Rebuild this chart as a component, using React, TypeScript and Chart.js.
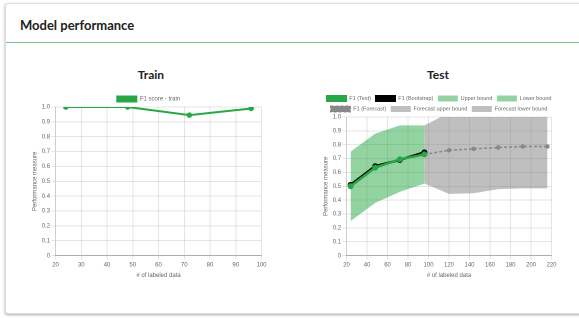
import React, { useEffect, useRef } from "react";
import { Chart, registerables } from "chart.js";

Chart.register(...registerables);

const trainX = [24, 48, 72, 96];
const trainF1 = [1.0, 1.0, 0.945, 0.99];

const testX = [24, 48, 72, 96];
const testF1 = [0.5, 0.635, 0.695, 0.73];
const bootstrapF1 = [0.51, 0.645, 0.69, 0.745];
const upperBound = [0.75, 0.88, 0.94, 0.94];
const lowerBound = [0.25, 0.38, 0.46, 0.52];

const forecastX = [96, 120, 144, 168, 192, 216];
const forecastF1 = [0.73, 0.76, 0.77, 0.78, 0.787, 0.787];
const forecastUpper = [0.94, 1.03, 1.04, 1.05, 1.06, 1.06];
const forecastLower = [0.52, 0.445, 0.45, 0.48, 0.485, 0.485];

const GREEN = "#28a745";
const GREEN_FILL = "rgba(40,167,69,0.5)";
const GRAY_FILL = "rgba(128,128,128,0.5)";

const pts = (xs: number[], ys: number[]) => xs.map((x, i) => ({ x, y: ys[i] }));

const FONT = "'Liberation Sans', Arial, sans-serif";
const S = 2; // internal render scale

function yTick(v: any) {
  const n = Number(v);
  return n === 0 ? "0" : n.toFixed(1);
}

function baseScales(xmin: number, xmax: number, xstep: number) {
  return {
    x: {
      type: "linear" as const,
      min: xmin,
      max: xmax,
      ticks: { stepSize: xstep, color: "#666", font: { size: 12, family: FONT } },
      grid: { color: "rgba(0,0,0,0.1)", lineWidth: 2, tickLength: 8 },
      border: { color: "rgba(0,0,0,0.25)", width: 2 },
      title: { display: true, text: "# of labeled data", color: "#666", font: { size: 12, family: FONT } },
    },
    y: {
      min: 0,
      max: 1,
      ticks: { stepSize: 0.1, color: "#666", font: { size: 12, family: FONT }, callback: yTick },
      grid: { color: "rgba(0,0,0,0.1)", lineWidth: 2, tickLength: 8 },
      border: { color: "rgba(0,0,0,0.1)", width: 2 },
      title: { display: true, text: "Performance measure", color: "#666", font: { size: 12, family: FONT } },
    },
  };
}

function legendOpts(fontSize: number, padding: number) {
  return {
    labels: {
      boxWidth: 40,
      boxHeight: 12,
      font: { size: fontSize, family: FONT },
      color: "#666",
      padding,
      sort: (a: any, b: any) => a.datasetIndex - b.datasetIndex,
      generateLabels: (chart: any) =>
        (Chart.defaults.plugins.legend.labels.generateLabels as any)(chart).map((l: any) => ({
          ...l,
          lineWidth: Math.min(l.lineWidth || 0, 2),
        })),
    },
  };
}

function TrainChart({ w, h }: { w: number; h: number }) {
  const ref = useRef<HTMLCanvasElement | null>(null);
  useEffect(() => {
    if (!ref.current) return;
    const chart = new Chart(ref.current, {
      type: "line",
      data: {
        datasets: [
          {
            label: "F1 score - train",
            data: pts(trainX, trainF1),
            borderColor: GREEN,
            backgroundColor: GREEN,
            borderWidth: 4,
            pointRadius: 3.5,
            fill: false,
            tension: 0,
          },
        ],
      },
      options: {
        animation: false,
        responsive: false,
        maintainAspectRatio: false,
        devicePixelRatio: 1,
        plugins: {
          legend: legendOpts(12, 10) as any,
          tooltip: { enabled: false },
        },
        scales: baseScales(20, 100, 10) as any,
      },
    });
    return () => chart.destroy();
  }, []);
  return <canvas ref={ref} width={w * S} height={h * S} style={{ width: w, height: h, display: "block" }} />;
}

function TestChart({ w, h }: { w: number; h: number }) {
  const ref = useRef<HTMLCanvasElement | null>(null);
  useEffect(() => {
    if (!ref.current) return;
    const chart = new Chart(ref.current, {
      type: "line",
      data: {
        datasets: [
          {
            label: "F1 (Test)",
            data: pts(testX, testF1),
            borderColor: GREEN,
            backgroundColor: GREEN,
            borderWidth: 5,
            pointRadius: 3.5,
            fill: false,
            order: 0,
          },
          {
            label: "F1 (Bootstrap)",
            data: pts(testX, bootstrapF1),
            borderColor: "#000",
            backgroundColor: "#000",
            borderWidth: 5,
            pointRadius: 3.5,
            fill: false,
            order: 1,
          },
          {
            label: "Upper bound",
            data: pts(testX, upperBound),
            borderColor: GREEN_FILL,
            backgroundColor: GREEN_FILL,
            borderWidth: 0,
            pointRadius: 0,
            fill: "+1",
            order: 3,
          },
          {
            label: "Lower bound",
            data: pts(testX, lowerBound),
            borderColor: GREEN_FILL,
            backgroundColor: GREEN_FILL,
            borderWidth: 0,
            pointRadius: 0,
            fill: false,
            order: 3,
          },
          {
            label: "F1 (Forecast)",
            data: pts(forecastX, forecastF1),
            borderColor: "#888",
            backgroundColor: "#888",
            borderWidth: 3,
            borderDash: [6, 4],
            pointRadius: 3,
            fill: false,
            order: 2,
          },
          {
            label: "Forecast upper bound",
            data: pts(forecastX, forecastUpper),
            borderColor: GRAY_FILL,
            backgroundColor: GRAY_FILL,
            borderWidth: 0,
            pointRadius: 0,
            fill: "+1",
            order: 4,
          },
          {
            label: "Forecast lower bound",
            data: pts(forecastX, forecastLower),
            borderColor: GRAY_FILL,
            backgroundColor: GRAY_FILL,
            borderWidth: 0,
            pointRadius: 0,
            fill: false,
            order: 4,
          },
        ],
      },
      options: {
        animation: false,
        responsive: false,
        maintainAspectRatio: false,
        devicePixelRatio: 1,
        plugins: {
          legend: legendOpts(11, 9) as any,
          tooltip: { enabled: false },
        },
        scales: baseScales(20, 220, 20) as any,
      },
    });
    return () => chart.destroy();
  }, []);
  return <canvas ref={ref} width={w * S} height={h * S} style={{ width: w, height: h, display: "block" }} />;
}

export default function App() {
  useEffect(() => {
    document.body.style.margin = "0";
  }, []);
  const titleStyle: React.CSSProperties = {
    position: "absolute",
    width: 100,
    top: 67,
    textAlign: "center",
    fontFamily: "Lato, sans-serif",
    fontWeight: 700,
    fontSize: 12,
    color: "#222",
  };
  return (
    <div style={{ position: "relative", width: 579, height: 318, background: "#fff", overflow: "hidden" }}>
      <div
        style={{
          position: "absolute",
          left: 5,
          top: 3,
          width: 580,
          height: 309,
          border: "1px solid #ddd",
          boxShadow: "0 1px 3px rgba(0,0,0,0.35)",
          background: "#fff",
          borderRadius: 3,
        }}
      />
      <div
        style={{
          position: "absolute",
          left: 20,
          top: 17,
          fontFamily: "Lato, 'Open Sans', sans-serif",
          fontWeight: 700,
          fontSize: 13,
          color: "#222",
        }}
      >
        Model performance
      </div>
      <div style={{ position: "absolute", left: 6, top: 42, width: 580, height: 1, background: "#7cc58a" }} />
      <div style={{ ...titleStyle, left: 101 }}>Train</div>
      <div style={{ ...titleStyle, left: 388 }}>Test</div>
      <div style={{ position: "absolute", left: 29, top: 91 }}>
        <TrainChart w={239} h={190} />
      </div>
      <div style={{ position: "absolute", left: 320, top: 91 }}>
        <TestChart w={238} h={190} />
      </div>
    </div>
  );
}
